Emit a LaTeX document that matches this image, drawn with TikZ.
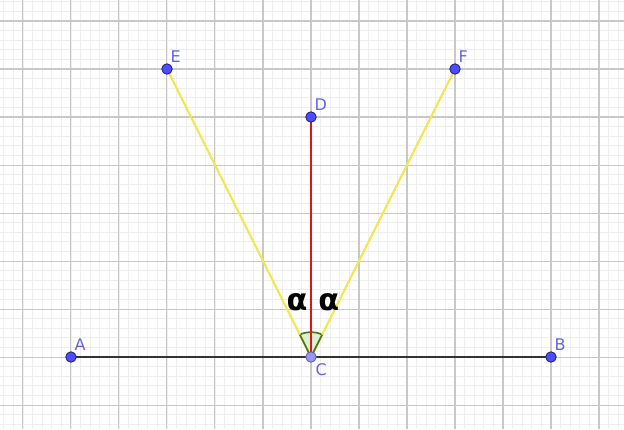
\documentclass[tikz,border=0pt]{standalone}
\usepackage{fontspec}
\setmainfont{DejaVu Sans}
\usetikzlibrary{calc}
\definecolor{ptfill}{RGB}{77,77,255}
\definecolor{ptdraw}{RGB}{30,30,130}
\definecolor{ptlight}{RGB}{150,150,245}
\definecolor{lbl}{RGB}{100,100,220}
\definecolor{ylw}{RGB}{245,230,80}
\definecolor{redl}{RGB}{225,20,20}
\definecolor{angd}{RGB}{70,120,30}
\definecolor{angf}{RGB}{215,235,200}
\definecolor{gmaj}{RGB}{200,200,200}
\definecolor{gmin}{RGB}{238,238,238}
\tikzset{
  pt/.style={circle,fill=ptfill,draw=ptdraw,line width=0.5pt,inner sep=0pt,minimum size=6.2pt},
  ptc/.style={circle,fill=ptlight,draw=ptdraw!70,line width=0.5pt,inner sep=0pt,minimum size=6.2pt},
  plabel/.style={text=lbl,font=\fontsize{9.5}{9.5}\selectfont,inner sep=0pt},
  seg/.style={line width=1.3pt},
  alabel/.style={font=\fontsize{18}{18}\selectfont\bfseries,inner sep=0pt}
}
\begin{document}
\begin{tikzpicture}[x=1cm,y=1cm]
\useasboundingbox (-6.479,-1.5) rectangle (6.521,7.4375);
\fill[white] (-6.479,-1.5) rectangle (6.521,7.4375);
\draw[gmin,line width=0.4pt,step=0.2] (-6.479,-1.5) grid (6.521,7.4375);
\draw[gmaj,line width=0.6pt,step=1] (-6.479,-1.5) grid (6.521,7.4375);
% points
\coordinate (Cc) at (0,0);
\coordinate (Ac) at (-5,0);
\coordinate (Bc) at (5,0);
\coordinate (Dc) at (0,5);
\coordinate (Ec) at (-3,6);
\coordinate (Fc) at (3,6);
% angle marks
\fill[angf,opacity=0.8] (Cc) -- ++(116.565:0.52) arc[start angle=116.565,end angle=63.435,radius=0.52] -- cycle;
\draw[angd,line width=1pt] ($(Cc)+(116.565:0.52)$) arc[start angle=116.565,end angle=63.435,radius=0.52];
% segments
\draw[seg,black!80] (Ac) -- (Bc);
\draw[seg,ylw] (Cc) -- (Ec);
\draw[seg,ylw] (Cc) -- (Fc);
\draw[seg,redl] (Cc) -- (Dc);
\draw[angd,line width=1pt] (Cc) -- ++(116.565:0.52);
\draw[angd,line width=1pt] (Cc) -- ++(63.435:0.52);
% point nodes
\node[pt] (A) at (Ac) {};
\node[pt] (B) at (Bc) {};
\node[ptc] (C) at (Cc) {};
\node[pt] (D) at (Dc) {};
\node[pt] (E) at (Ec) {};
\node[pt] (F) at (Fc) {};
\node[plabel,anchor=south west] (lA) at (-4.93,0.12) {A};
\node[plabel,anchor=south west] (lB) at (5.07,0.12) {B};
\node[plabel,anchor=north west] (lC) at (0.09,-0.13) {C};
\node[plabel,anchor=south west] (lD) at (0.07,5.12) {D};
\node[plabel,anchor=south west] (lE) at (-2.93,6.12) {E};
\node[plabel,anchor=south west] (lF) at (3.07,6.12) {F};
\node[alabel] (a1) at (-0.29,1.15) {α};
\node[alabel] (a2) at (0.37,1.15) {α};
\end{tikzpicture}
\end{document}
